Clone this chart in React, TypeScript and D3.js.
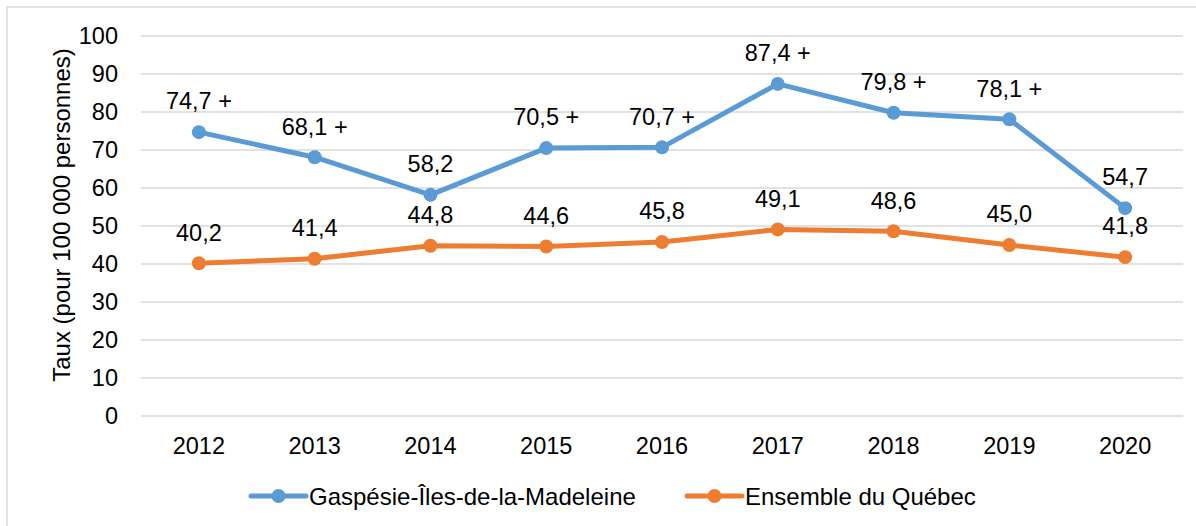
import React, { useEffect, useRef } from "react";
import * as d3 from "d3";

const years = ["2012", "2013", "2014", "2015", "2016", "2017", "2018", "2019", "2020"];
const gaspesie = [74.7, 68.1, 58.2, 70.5, 70.7, 87.4, 79.8, 78.1, 54.7];
const gaspesieLabels = ["74,7 +", "68,1 +", "58,2", "70,5 +", "70,7 +", "87,4 +", "79,8 +", "78,1 +", "54,7"];
const quebec = [40.2, 41.4, 44.8, 44.6, 45.8, 49.1, 48.6, 45.0, 41.8];
const quebecLabels = ["40,2", "41,4", "44,8", "44,6", "45,8", "49,1", "48,6", "45,0", "41,8"];
const yTicks = [0, 10, 20, 30, 40, 50, 60, 70, 80, 90, 100];
const seriesNames = ["Gaspésie-Îles-de-la-Madeleine", "Ensemble du Québec"];

const BLUE = "#5B9BD5";
const ORANGE = "#ED7D31";
const GRID = "#D9D9D9";
const FONT = "'Liberation Sans', Arial, sans-serif";

const App = () => {
  const svgRef = useRef<SVGSVGElement>(null);

  useEffect(() => {
    const svg = d3.select(svgRef.current);
    svg.selectAll("*").remove();

    const W = 1196;
    const H = 526;
    const left = 141;
    const right = 1183;
    const top = 36;
    const bottom = 416;

    // outer frame
    svg
      .append("rect")
      .attr("x", 7)
      .attr("y", 7)
      .attr("width", W + 20)
      .attr("height", H + 20)
      .attr("fill", "white")
      .attr("stroke", GRID)
      .attr("stroke-width", 1.5);

    const x = d3.scalePoint().domain(years).range([left, right]).padding(0.5);
    const y = d3.scaleLinear().domain([0, 100]).range([bottom, top]);

    // grid
    svg
      .append("g")
      .selectAll("line")
      .data(yTicks)
      .enter()
      .append("line")
      .attr("x1", left)
      .attr("x2", right)
      .attr("y1", (d) => y(d))
      .attr("y2", (d) => y(d))
      .attr("stroke", GRID)
      .attr("stroke-width", 1.5);

    // y tick labels
    svg
      .append("g")
      .selectAll("text")
      .data(yTicks)
      .enter()
      .append("text")
      .attr("x", 118)
      .attr("y", (d) => y(d) + 8.3)
      .attr("text-anchor", "end")
      .style("font-family", FONT)
      .style("font-size", "23.5px")
      .style("fill", "#000")
      .text((d) => d);

    // x tick labels
    svg
      .append("g")
      .selectAll("text")
      .data(years)
      .enter()
      .append("text")
      .attr("x", (d) => x(d)!)
      .attr("y", 453.5)
      .attr("text-anchor", "middle")
      .style("font-family", FONT)
      .style("font-size", "23.5px")
      .style("fill", "#000")
      .text((d) => d);

    // y axis title
    svg
      .append("text")
      .attr("transform", `translate(70,${(top + bottom) / 2 - 11}) rotate(-90)`)
      .attr("text-anchor", "middle")
      .style("font-family", FONT)
      .style("font-size", "24px")
      .style("fill", "#000")
      .text("Taux (pour 100 000 personnes)");

    const line = d3
      .line<number>()
      .x((_, i) => x(years[i])!)
      .y((d) => y(d));

    const series = [
      { values: gaspesie, labels: gaspesieLabels, color: BLUE },
      { values: quebec, labels: quebecLabels, color: ORANGE },
    ];

    series.forEach((s) => {
      svg
        .append("path")
        .attr("d", line(s.values))
        .attr("fill", "none")
        .attr("stroke", s.color)
        .attr("stroke-width", 5)
        .attr("stroke-linejoin", "round");

      svg
        .append("g")
        .selectAll("circle")
        .data(s.values)
        .enter()
        .append("circle")
        .attr("cx", (_, i) => x(years[i])!)
        .attr("cy", (d) => y(d))
        .attr("r", 7)
        .attr("fill", s.color);
    });

    series.forEach((s) => {
      svg
        .append("g")
        .selectAll("text")
        .data(s.values)
        .enter()
        .append("text")
        .attr("x", (_, i) => x(years[i])!)
        .attr("y", (d) => y(d) - 31 + 8.3)
        .attr("text-anchor", "middle")
        .style("font-family", FONT)
        .style("font-size", "23.5px")
        .style("fill", "#000")
        .text((_, i) => s.labels[i]);
    });

    // legend
    const legendY = 496;
    const legendItems = [
      { name: seriesNames[0], color: BLUE, x0: 251 },
      { name: seriesNames[1], color: ORANGE, x0: 687 },
    ];
    legendItems.forEach((l) => {
      const g = svg.append("g");
      g.append("line")
        .attr("x1", l.x0)
        .attr("x2", l.x0 + 55)
        .attr("y1", legendY)
        .attr("y2", legendY)
        .attr("stroke", l.color)
        .attr("stroke-width", 5)
        .attr("stroke-linecap", "round");
      g.append("circle")
        .attr("cx", l.x0 + 27.5)
        .attr("cy", legendY)
        .attr("r", 7)
        .attr("fill", l.color);
      g.append("text")
        .attr("x", l.x0 + 58)
        .attr("y", legendY + 8.5)
        .style("font-family", FONT)
        .style("font-size", "24px")
        .style("fill", "#000")
        .text(l.name);
    });
  }, []);

  return (
    <svg
      ref={svgRef}
      width={1196}
      height={526}
      style={{ position: "absolute", left: 0, top: 0, background: "white" }}
    />
  );
};

export default App;
